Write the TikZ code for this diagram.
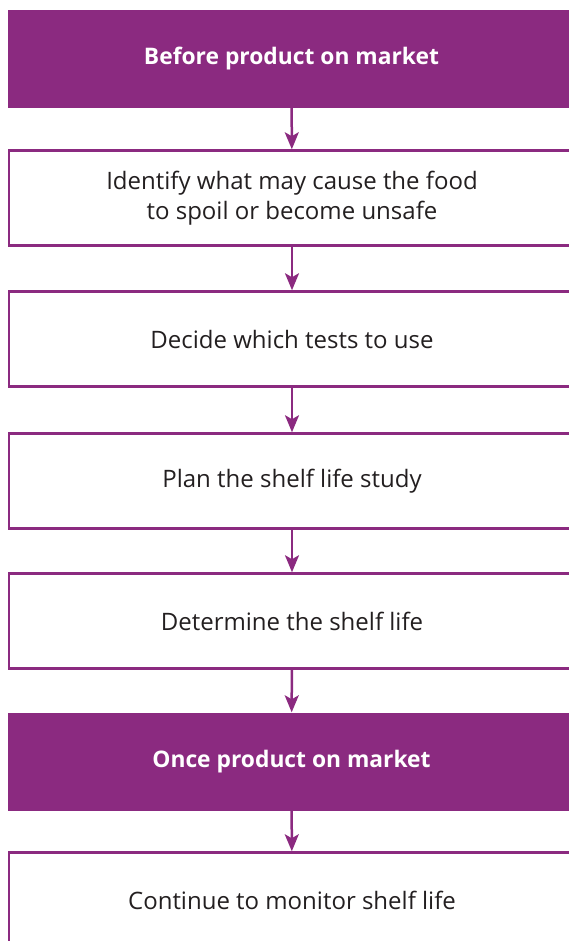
\documentclass[tikz,border=0pt]{standalone}
\usepackage{fontspec}
\setmainfont{Open Sans}
\usetikzlibrary{arrows.meta}
\definecolor{plum}{HTML}{8B2A80}
\definecolor{inkgray}{HTML}{231F20}
\begin{document}
\begin{tikzpicture}[x=1pt,y=-1pt,
    stage/.style={fill=plum,text=white,font=\fontsize{22.8}{28}\selectfont\bfseries,
      minimum width=567pt,minimum height=98pt,inner sep=0pt},
    task/.style={draw=plum,line width=2.5pt,text=inkgray,align=center,
      font=\fontsize{24}{30}\selectfont,minimum width=566pt,minimum height=95pt,inner sep=0pt},
    flow/.style={draw=plum,line width=2.5pt,-{Stealth[length=17pt,width=14pt,inset=4pt]}}]
  \useasboundingbox (0,0) rectangle (569,941);
  \node[stage] (before) at (291.5,59) {Before product on market};
  \node[task] (identify) at (292,198) {Identify what may cause the food\\to spoil or become unsafe};
  \node[task] (tests) at (292,339) {Decide which tests to use};
  \node[task] (plan) at (292,481) {Plan the shelf life study};
  \node[task] (determine) at (292,621) {Determine the shelf life};
  \node[stage] (once) at (291.5,761.5) {Once product on market};
  \node[task] (monitor) at (292,900) {Continue to monitor shelf life};
  % arrows down the chain
  \draw[flow] (before) -- (identify);
  \draw[flow] (identify) -- (tests);
  \draw[flow] (tests) -- (plan);
  \draw[flow] (plan) -- (determine);
  \draw[flow] (determine) -- (once);
  \draw[flow] (once) -- (monitor);
\end{tikzpicture}
\end{document}
